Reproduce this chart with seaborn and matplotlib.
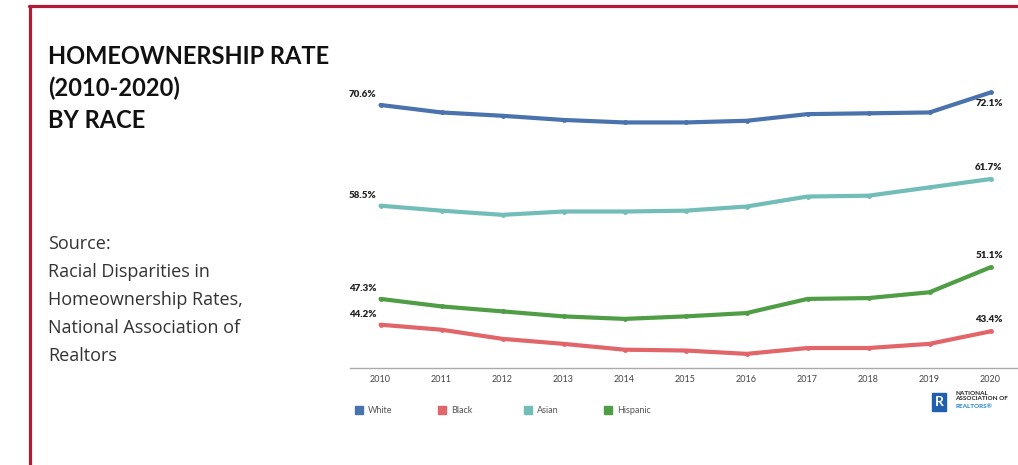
import matplotlib
matplotlib.use("Agg")
import matplotlib.pyplot as plt
import seaborn as sns
import pandas as pd
from matplotlib.patches import Rectangle

years = [2010, 2011, 2012, 2013, 2014, 2015, 2016, 2017, 2018, 2019, 2020]
white = [70.6, 69.7, 69.3, 68.8, 68.5, 68.5, 68.7, 69.5, 69.6, 69.7, 72.1]
black = [44.2, 43.6, 42.5, 41.9, 41.2, 41.1, 40.7, 41.4, 41.4, 41.9, 43.4]
asian = [58.5, 57.9, 57.4, 57.8, 57.8, 57.9, 58.4, 59.6, 59.7, 60.7, 61.7]
hispanic = [47.3, 46.4, 45.8, 45.2, 44.9, 45.2, 45.6, 47.3, 47.4, 48.1, 51.1]
series_names = ["White", "Black", "Asian", "Hispanic"]
colors = {"White": "#4a72ad", "Black": "#e2656a", "Asian": "#72bdb8", "Hispanic": "#4f9d45"}

df = pd.DataFrame({"Year": years, "White": white, "Black": black,
                   "Asian": asian, "Hispanic": hispanic})
long = df.melt(id_vars="Year", var_name="Race", value_name="Rate")

sns.set_theme(style="white")
plt.rcParams['font.family'] = ['Lato', 'DejaVu Sans']

fig = plt.figure(figsize=(10.18, 4.65), dpi=100)
ax = fig.add_axes([350 / 1018, 1 - 368 / 465, 668 / 1018, (368 - 80) / 465])

sns.lineplot(data=long, x="Year", y="Rate", hue="Race", hue_order=series_names,
             palette=colors, marker="o", markersize=3.5, markeredgewidth=0,
             linewidth=3, legend=False, ax=ax)

ax.set_xlim(2009.5, 2009.5 + 668 / 61)
ax.set_ylim(39.0, 73.6)
ax.set_xticks(years)
ax.set_xticklabels([str(y) for y in years], fontsize=6.5, color="#444444")
ax.set_yticks([])
ax.set_xlabel("")
ax.set_ylabel("")
for s in ["top", "right", "left"]:
    ax.spines[s].set_visible(False)
ax.spines["bottom"].set_linestyle((0, (1, 1)))
ax.spines["bottom"].set_color("#aaaaaa")
ax.spines["bottom"].set_linewidth(1.0)
ax.tick_params(axis="x", length=0, pad=5)

# end-point labels
vals = {"White": white, "Black": black, "Asian": asian, "Hispanic": hispanic}
for name in series_names:
    v = vals[name]
    ax.annotate(f"{v[0]:.1f}%", (years[0], v[0]), xytext=(-23, 4), textcoords="offset points",
                fontsize=7, fontweight="heavy", color="#222222", ha="left", va="bottom")
    off = (-11, -5) if name == "White" else (-11, 5)
    va = "top" if name == "White" else "bottom"
    ax.annotate(f"{v[-1]:.1f}%", (years[-1], v[-1]), xytext=off, textcoords="offset points",
                fontsize=7, fontweight="heavy", color="#222222", ha="left", va=va)

# legend
leg_x = [355, 438, 524, 604]
for name, x in zip(series_names, leg_x):
    fig.patches.append(Rectangle((x / 1018, 1 - 414 / 465), 8 / 1018, 8 / 465,
                                 transform=fig.transFigure, color=colors[name]))
    fig.text((x + 13) / 1018, 1 - 410 / 465, name, fontsize=6.5, color="#555555",
             ha="left", va="center")

# NAR logo
fig.patches.append(Rectangle((932 / 1018, 1 - 411 / 465), 14 / 1018, 18 / 465,
                             transform=fig.transFigure, color="#1f5fae"))
fig.text(939 / 1018, 1 - 402 / 465, "R", fontsize=10, fontweight="bold", color="white",
         ha="center", va="center")
fig.text(955 / 1018, 1 - 391 / 465, "NATIONAL\nASSOCIATION OF", fontsize=4.6,
         fontweight="bold", color="#222222", ha="left", va="top", linespacing=1.0)
fig.text(955 / 1018, 1 - 404 / 465, "REALTORS®", fontsize=4.6, fontweight="bold",
         color="#1f7fd0", ha="left", va="top")

# title and source
fig.text(48 / 1018, 1 - 45 / 465, "HOMEOWNERSHIP RATE\n(2010-2020)\nBY RACE",
         fontsize=17, fontweight="bold", color="#111111", ha="left", va="top",
         linespacing=1.45)
fig.text(48 / 1018, 1 - 235 / 465,
         "Source:\nRacial Disparities in\nHomeownership Rates,\nNational Association of\nRealtors",
         fontsize=13, fontweight="normal", color="#333333", ha="left", va="top",
         linespacing=1.72, family=["Open Sans", "DejaVu Sans"])

# red frame
border = "#b01c35"
fig.add_artist(plt.Line2D([29.5 / 1018, 29.5 / 1018], [0, 1 - 6.5 / 465],
                          transform=fig.transFigure, color=border, linewidth=2.3))
fig.add_artist(plt.Line2D([28.5 / 1018, 1], [1 - 6.5 / 465, 1 - 6.5 / 465],
                          transform=fig.transFigure, color=border, linewidth=2.3))

fig.savefig("out.png", dpi=100)
